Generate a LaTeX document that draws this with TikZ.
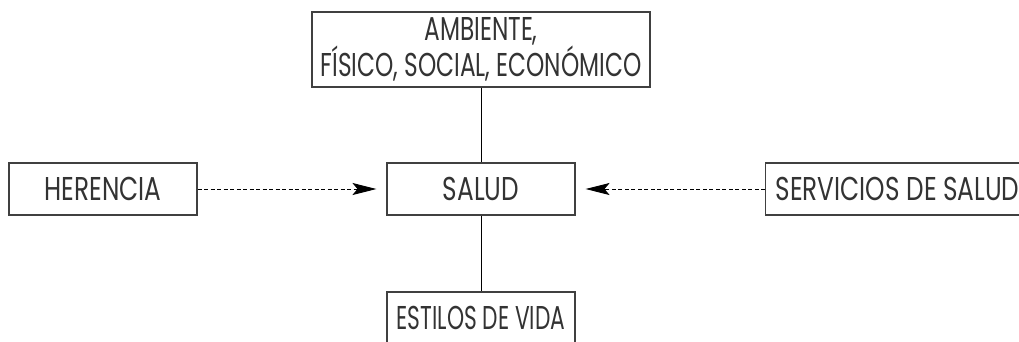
\documentclass[tikz,border=0pt]{standalone}
\usepackage{fontspec}
\setmainfont{Poppins}[FakeStretch=0.75]
\newfontfamily\topfont{Poppins}[FakeStretch=0.705]
\newfontfamily\botfont{Poppins}[FakeStretch=0.66]
\usetikzlibrary{arrows.meta}
\begin{document}
\begin{tikzpicture}[x=1pt,y=-1pt,
  box/.style={draw=black!75,line width=1.1pt,rectangle,minimum height=52pt,inner sep=0pt,
    font=\fontsize{33}{28}\selectfont,text=black!80},
  link/.style={draw=black,line width=0.9pt},
  dasharrow/.style={draw=black,line width=0.9pt,dash pattern=on 4pt off 2.5pt,
    -{Stealth[length=24pt,width=12pt,inset=5pt,fill=black]},shorten >=10pt}]
\useasboundingbox (0,0) rectangle (1019,341);
\clip (0,0) rectangle (1019,341);
\node[box,minimum width=338pt,minimum height=75pt,align=center,font=\topfont\fontsize{33}{28}\selectfont] (amb) at (481,49.5) {AMBIENTE,\\FÍSICO, SOCIAL, ECONÓMICO};
\node[box,minimum width=188pt] (sal) at (481,189) {SALUD};
\node[box,minimum width=188pt] (her) at (103,189) {HERENCIA};
\node[box,minimum width=264pt,anchor=west] (ser) at (765,189) {SERVICIOS DE SALUD};
\node[box,minimum width=188pt,font=\botfont\fontsize{33}{28}\selectfont] (est) at (481,318) {ESTILOS DE VIDA};
\draw[link] (amb) -- (sal);
\draw[link] (sal) -- (est);
\draw[dasharrow] (her) -- (sal);
\draw[dasharrow] (ser) -- (sal);
\end{tikzpicture}
\end{document}
